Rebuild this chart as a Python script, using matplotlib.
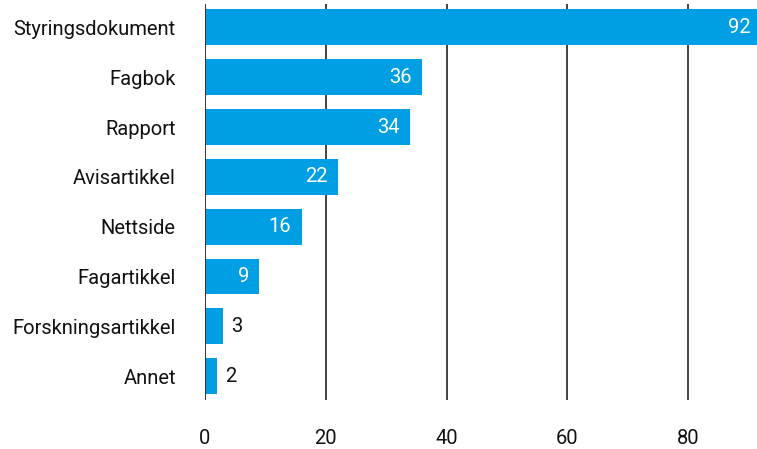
import matplotlib
matplotlib.use("Agg")
import matplotlib.pyplot as plt

categories = ["Styringsdokument", "Fagbok", "Rapport", "Avisartikkel",
              "Nettside", "Fagartikkel", "Forskningsartikkel", "Annet"]
values = [92, 36, 34, 22, 16, 9, 3, 2]
x_ticks = [0, 20, 40, 60, 80]

plt.rcParams["font.family"] = ["Roboto", "DejaVu Sans"]
FS = 14.5

fig = plt.figure(figsize=(7.57, 4.49), dpi=100)
ax = fig.add_axes([205 / 757, 49 / 449, 552 / 757, 396 / 449])

bar_color = "#009FE3"
y = list(range(len(categories)))
bars = ax.barh(y, values, height=0.72, color=bar_color, zorder=2)

ax.set_xlim(0, 91.4)
ax.set_ylim(len(categories) - 0.52, -0.47)

ax.set_yticks(y)
ax.set_yticklabels(categories, fontsize=FS, color="#111111")
ax.set_xticks(x_ticks)
ax.set_xticklabels([str(t) for t in x_ticks], fontsize=FS, color="#111111")
ax.tick_params(axis="both", length=0)
ax.tick_params(axis="y", pad=21)
ax.tick_params(axis="x", pad=21)

for t in x_ticks[1:]:
    ax.axvline(t, color="#222222", linewidth=1.2, zorder=1)
ax.axvline(0, color="#333333", linewidth=1.4, zorder=3)

for spine in ax.spines.values():
    spine.set_visible(False)

for rect, v in zip(bars, values):
    cy = rect.get_y() + rect.get_height() / 2
    if v >= 5:
        ax.annotate(str(v), xy=(v, cy), xytext=(-7.5, 0), textcoords="offset points",
                    ha="right", va="center", color="white", fontsize=FS,
                    annotation_clip=False, zorder=4)
    else:
        ax.annotate(str(v), xy=(v, cy), xytext=(5.5, 0), textcoords="offset points",
                    ha="left", va="center", color="#111111", fontsize=FS,
                    annotation_clip=False, zorder=4)

fig.savefig("out.png", dpi=100)
